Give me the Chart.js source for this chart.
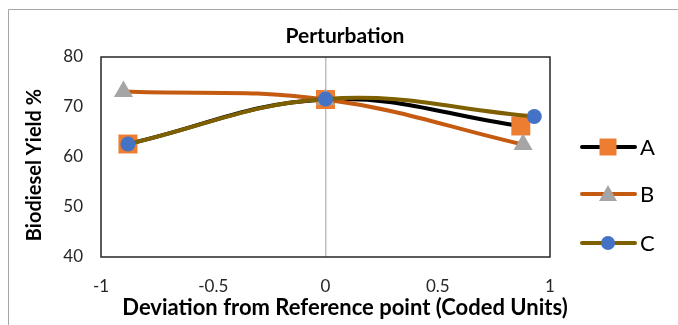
<!DOCTYPE html>
<html>
<head>
<meta charset="utf-8">
<script src="https://cdn.jsdelivr.net/npm/chart.js@4.4.1/dist/chart.umd.min.js"></script>
<style>
  html, body { margin: 0; padding: 0; background: #fff; }
  #wrap { width: 678px; height: 325px; position: relative; }
</style>
</head>
<body>
<div id="wrap"><canvas id="c" width="678" height="325"></canvas></div>
<script>
// --- data ---
const seriesNames = ['A', 'B', 'C']
const xA = [-0.88, 0, 0.87]
const yA = [62.6, 71.5, 66.2]
const xB = [-0.9, 0, 0.88]
const yB = [73.1, 71.5, 62.5]
const xC = [-0.88, 0, 0.93]
const yC = [62.6, 71.6, 68.1]
const xTicks = [-1, -0.5, 0, 0.5, 1]
const yTicks = [40, 50, 60, 70, 80]

const FONT = 'Lato, "Open Sans", sans-serif'

const pts = (xs, ys) => xs.map((x, i) => ({ x, y: ys[i] }))

const styles = [
  { line: '#000000', fill: '#ed7d31', shape: 'rect', r: 13.4 },
  { line: '#c55a11', fill: '#a5a5a5', shape: 'triangle', r: 11 },
  { line: '#7f6000', fill: '#4472c4', shape: 'circle', r: 7.5 },
]
const values = [pts(xA, yA), pts(xB, yB), pts(xC, yC)]

// Plot frame, outer chart border, titles, custom legend
const framePlugin = {
  id: 'frame',
  beforeDraw: (c) => {
    const x = c.ctx
    x.save()
    x.strokeStyle = '#a6a6a6'
    x.lineWidth = 1
    x.beginPath()
    x.moveTo(8.5, 325)
    x.lineTo(8.5, 9.5)
    x.lineTo(678, 9.5)
    x.stroke()

    x.fillStyle = '#000'
    x.textAlign = 'center'
    x.textBaseline = 'middle'
    x.font = `bold 21px ${FONT}`
    x.fillText('Perturbation', 345, 36)
    x.font = `bold 22px ${FONT}`
    x.fillText('Deviation from Reference point (Coded Units)', 345, 308)
    x.translate(35, 165)
    x.rotate(-Math.PI / 2)
    x.font = `bold 20px ${FONT}`
    x.fillText('Biodiesel Yield %', 0, 0)
    x.restore()
  },
  afterDatasetsDraw: (c) => {
    const x = c.ctx
    const a = c.chartArea
    x.save()
    x.strokeStyle = '#262626'
    x.lineWidth = 1.5
    x.strokeRect(a.left, a.top, a.right - a.left, a.bottom - a.top)

    // legend
    const ly = [147, 194, 243]
    seriesNames.forEach((n, i) => {
      const s = styles[i]
      x.strokeStyle = s.line
      x.lineWidth = 4
      x.lineCap = 'round'
      x.beginPath()
      x.moveTo(582, ly[i])
      x.lineTo(635, ly[i])
      x.stroke()
      x.fillStyle = s.fill
      const cx = 608, cy = ly[i]
      if (s.shape === 'rect') {
        x.fillRect(cx - 8.5, cy - 8.5, 17, 17)
      } else if (s.shape === 'triangle') {
        x.beginPath()
        x.moveTo(cx, cy - 9)
        x.lineTo(cx + 9, cy + 7)
        x.lineTo(cx - 9, cy + 7)
        x.closePath()
        x.fill()
      } else {
        x.beginPath()
        x.arc(cx, cy, 7, 0, Math.PI * 2)
        x.fill()
      }
      x.fillStyle = '#000'
      x.font = `22px ${FONT}`
      x.textBaseline = 'middle'
      x.textAlign = 'left'
      x.fillText(n, 640, cy + 1)
    })
    x.restore()
  },
}

new Chart(document.getElementById('c'), {
  type: 'scatter',
  data: {
    datasets: seriesNames.map((n, i) => ({
      label: n,
      data: values[i],
      order: 3 - i, // C drawn on top, like the original
      showLine: true,
      tension: 0.4,
      borderColor: styles[i].line,
      borderWidth: 4,
      backgroundColor: styles[i].fill,
      pointBackgroundColor: styles[i].fill,
      pointBorderWidth: 0,
      pointStyle: styles[i].shape,
      pointRadius: styles[i].r,
      pointHoverRadius: styles[i].r,
    })),
  },
  plugins: [framePlugin],
  options: {
    responsive: false,
    animation: false,
    layout: { padding: { left: 0, right: 128, top: 57, bottom: 0 } },
    plugins: {
      legend: { display: false },
      tooltip: { enabled: false },
    },
    scales: {
      x: {
        type: 'linear',
        min: -1,
        max: 1,
        afterBuildTicks: (s) => { s.ticks = xTicks.map((v) => ({ value: v })) },
        afterFit: (s) => { s.height = 68 },
        grid: {
          drawTicks: false,
          color: (ctx) => (ctx.tick && ctx.tick.value === 0 ? '#bfbfbf' : 'rgba(0,0,0,0)'),
          lineWidth: 1.5,
        },
        border: { display: false },
        ticks: {
          color: '#262626',
          font: { family: FONT, size: 17 },
          padding: 19,
          callback: (v) => String(v),
        },
      },
      y: {
        min: 40,
        max: 80,
        afterBuildTicks: (s) => { s.ticks = yTicks.map((v) => ({ value: v })) },
        afterFit: (s) => { s.width = 101 },
        grid: { display: false, drawTicks: false },
        border: { display: false },
        ticks: { color: '#262626', font: { family: FONT, size: 17 }, padding: 18 },
      },
    },
  },
})
</script>
</body>
</html>
